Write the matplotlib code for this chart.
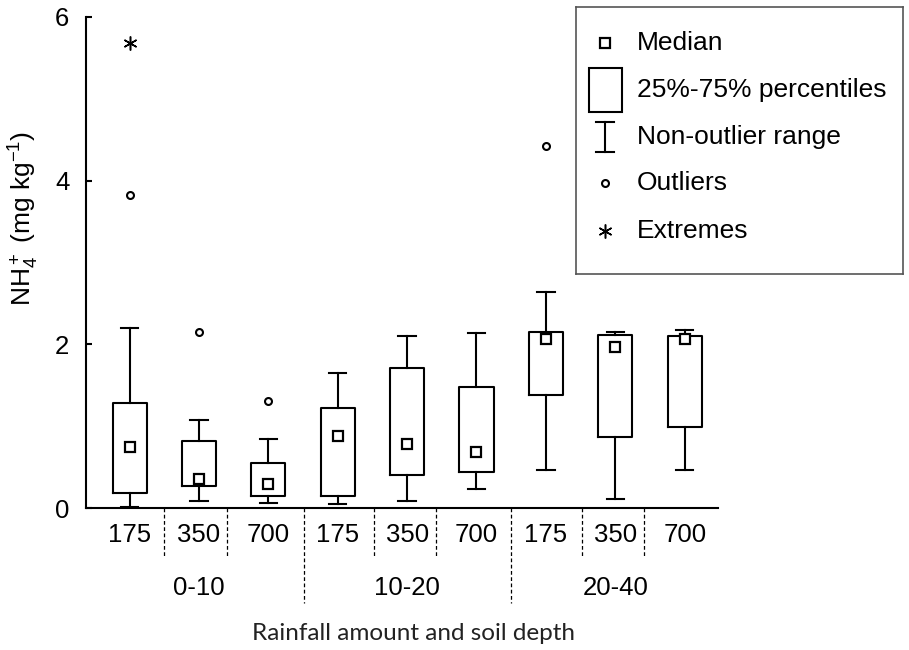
import matplotlib
matplotlib.use("Agg")
import matplotlib.pyplot as plt
from matplotlib.transforms import blended_transform_factory

plt.rcParams['font.family'] = ['Liberation Sans', 'DejaVu Sans']
plt.rcParams['mathtext.fontset'] = 'custom'
plt.rcParams['mathtext.rm'] = 'Liberation Sans'
plt.rcParams['mathtext.it'] = 'Liberation Sans'

# data
rainfall = ['175', '350', '700'] * 3
depths = ['0-10', '10-20', '20-40']
medians = [0.75, 0.35, 0.29, 0.88, 0.78, 0.68, 2.06, 1.97, 2.06]
q1 = [0.18, 0.27, 0.15, 0.15, 0.40, 0.44, 1.38, 0.87, 0.99]
q3 = [1.28, 0.82, 0.55, 1.22, 1.71, 1.48, 2.15, 2.12, 2.10]
whis_lo = [0.01, 0.09, 0.06, 0.05, 0.08, 0.23, 0.47, 0.11, 0.46]
whis_hi = [2.20, 1.08, 0.84, 1.65, 2.10, 2.14, 2.64, 2.15, 2.17]
outliers = [[3.83], [2.15], [1.31], [], [], [], [4.42], [], []]
extremes = [[5.68], [], [], [], [], [], [], [], []]

W, H = 909, 650
fig = plt.figure(figsize=(W / 100, H / 100), dpi=100)
ax = fig.add_axes([86 / W, 1 - 508 / H, (718 - 86) / W, (508 - 17) / H])

pos = list(range(1, len(medians) + 1))
stats = []
for i in range(len(medians)):
    stats.append(dict(med=medians[i], q1=q1[i], q3=q3[i],
                      whislo=whis_lo[i], whishi=whis_hi[i], fliers=[]))

lw = 1.5
ax.bxp(stats, positions=pos, widths=0.49, capwidths=0.25, showfliers=False,
       boxprops=dict(color='black', linewidth=lw),
       whiskerprops=dict(color='black', linewidth=lw),
       capprops=dict(color='black', linewidth=lw),
       medianprops=dict(linewidth=0))

ax.plot(pos, medians, 's', ms=7, mfc='white', mec='black', mew=1.6, zorder=5)
for p, vals in zip(pos, outliers):
    if vals:
        ax.plot([p] * len(vals), vals, 'o', ms=5, mfc='white', mec='black',
                mew=1.5, zorder=5)
for p, vals in zip(pos, extremes):
    if vals:
        ax.plot([p] * len(vals), vals, marker=(6, 2, 0), ls='none', ms=10,
                mec='black', mew=1.1, zorder=5)

ax.set_xlim(0.373, 9.48)
ax.set_ylim(0, 6)
ax.set_yticks([0, 2, 4, 6])
ax.set_xticks([])
ax.tick_params(axis='y', direction='in', length=4, width=1.5, pad=12,
               labelsize=18.5)
for s in ['top', 'right']:
    ax.spines[s].set_visible(False)
for s in ['left', 'bottom']:
    ax.spines[s].set_linewidth(1.5)

fig.text(24 / W, 1 - 218 / H, 'NH$_4^+$ (mg kg$^{-1}$)', rotation=90,
         ha='center', va='center', fontsize=19)

# category labels and dashed separators below the axis
tr = blended_transform_factory(ax.transData, ax.transAxes)
for p, lab in zip(pos, rainfall):
    ax.text(p, -0.056, lab, transform=tr, ha='center', va='center',
            fontsize=18.5)
for k, d in enumerate(depths):
    ax.text(2 + 3 * k, -0.163, d, transform=tr, ha='center', va='center',
            fontsize=18.5)
short_sep = [1.5, 2.4, 4.52, 5.42, 7.52, 8.41]
long_sep = [3.51, 6.5]
for x in short_sep:
    ax.plot([x, x], [0, -0.102], transform=tr, color='black', lw=0.9,
            ls=(0, (3, 2)), clip_on=False)
for x in long_sep:
    ax.plot([x, x], [0, -0.194], transform=tr, color='black', lw=0.9,
            ls=(0, (3, 2)), clip_on=False)
fig.text(413 / W, 1 - 633 / H, 'Rainfall amount and soil depth',
         ha='center', va='center', fontsize=17.5, family=['Lato', 'DejaVu Sans'],
         color='#222222')

# legend panel
lx0, ly0, lx1, ly1 = 576, 7, 903, 274
lg = fig.add_axes([lx0 / W, 1 - ly1 / H, (lx1 - lx0) / W, (ly1 - ly0) / H])
lg.set_xlim(0, lx1 - lx0)
lg.set_ylim(ly1 - ly0, 0)
lg.set_xticks([])
lg.set_yticks([])
for s in lg.spines.values():
    s.set_color('#555555')
    s.set_linewidth(1.2)
sx, tx = 29, 61
rows = [36, 83, 130, 176, 224]
lg.plot(sx, rows[0], 's', ms=7, mfc='white', mec='black', mew=1.6)
lg.add_patch(plt.Rectangle((sx - 16.5, rows[1] - 22), 33, 44, fill=False,
                           ec='black', lw=1.5))
lg.plot([sx, sx], [rows[2] - 15, rows[2] + 15], color='black', lw=1.5)
lg.plot([sx - 9, sx + 9], [rows[2] - 15, rows[2] - 15], color='black', lw=1.5)
lg.plot([sx - 9, sx + 9], [rows[2] + 15, rows[2] + 15], color='black', lw=1.5)
lg.plot(sx, rows[3], 'o', ms=5, mfc='white', mec='black', mew=1.5)
lg.plot(sx, rows[4], marker=(6, 2, 0), ms=10, mec='black', mew=1.1)
labels = ['Median', '25%-75% percentiles', 'Non-outlier range', 'Outliers',
          'Extremes']
for y, t in zip(rows, labels):
    lg.text(tx, y, t, ha='left', va='center', fontsize=19)

fig.savefig('out.png', dpi=100)
